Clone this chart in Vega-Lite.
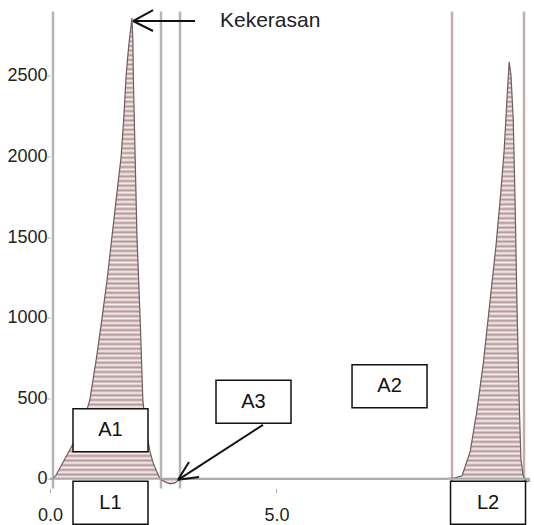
{
  "$schema": "https://vega.github.io/schema/vega-lite/v6.json",
  "width": 480,
  "height": 477,
  "autosize": "none",
  "padding": {"left": 50, "top": 11.5, "right": 4, "bottom": 36.5},
  "background": "white",
  "config": {"view": {"stroke": null}, "font": "Liberation Sans"},
  "datasets": {
    "curve": [
      {"t": 0.0, "f": 0}, {"t": 0.066, "f": 0}, {"t": 0.13, "f": 22}, {"t": 0.2, "f": 58},
      {"t": 0.4, "f": 160}, {"t": 0.57, "f": 250}, {"t": 0.75, "f": 366}, {"t": 0.88, "f": 490},
      {"t": 1.02, "f": 738}, {"t": 1.15, "f": 999}, {"t": 1.26, "f": 1234}, {"t": 1.37, "f": 1507},
      {"t": 1.46, "f": 1731}, {"t": 1.57, "f": 1998}, {"t": 1.63, "f": 2239}, {"t": 1.68, "f": 2500},
      {"t": 1.74, "f": 2692}, {"t": 1.81, "f": 2860}, {"t": 1.83, "f": 2723}, {"t": 1.84, "f": 2500},
      {"t": 1.88, "f": 2000}, {"t": 1.92, "f": 1507}, {"t": 1.99, "f": 999}, {"t": 2.05, "f": 490},
      {"t": 2.12, "f": 304}, {"t": 2.21, "f": 167}, {"t": 2.27, "f": 105}, {"t": 2.36, "f": 43},
      {"t": 2.43, "f": 0}, {"t": 2.54, "f": -19}, {"t": 2.65, "f": -31}, {"t": 2.76, "f": -25},
      {"t": 2.85, "f": -6}, {"t": 2.92, "f": 0}, {"t": 8.72, "f": 0}, {"t": 8.94, "f": 6},
      {"t": 9.1, "f": 19}, {"t": 9.28, "f": 170}, {"t": 9.42, "f": 410}, {"t": 9.57, "f": 720},
      {"t": 9.72, "f": 1110}, {"t": 9.85, "f": 1450}, {"t": 9.95, "f": 1760}, {"t": 10.03, "f": 2041},
      {"t": 10.09, "f": 2351}, {"t": 10.14, "f": 2587}, {"t": 10.18, "f": 2506}, {"t": 10.23, "f": 2227},
      {"t": 10.27, "f": 1731}, {"t": 10.31, "f": 1110}, {"t": 10.36, "f": 490}, {"t": 10.4, "f": 118},
      {"t": 10.45, "f": 19}, {"t": 10.53, "f": -19}, {"t": 10.6, "f": -12}
    ],
    "markers": [
      {"t": 0.066, "jenis": "A"}, {"t": 2.451, "jenis": "A"}, {"t": 2.871, "jenis": "A"},
      {"t": 8.878, "jenis": "B"}, {"t": 10.468, "jenis": "B"}
    ],
    "arrows": [
      {"x": 1.833, "y": 2841, "x2": 3.202, "y2": 2841},
      {"x": 1.833, "y": 2841, "x2": 2.275, "y2": 2909},
      {"x": 1.833, "y": 2841, "x2": 2.275, "y2": 2779},
      {"x": 2.827, "y": -6, "x2": 4.704, "y2": 335},
      {"x": 2.827, "y": -6, "x2": 3.07, "y2": 105},
      {"x": 2.827, "y": -6, "x2": 3.291, "y2": 12}
    ],
    "boxes": [
      {"label": "A1", "t": 1.336, "f": 301},
      {"label": "A3", "t": 4.494, "f": 478},
      {"label": "A2", "t": 7.498, "f": 574},
      {"label": "L1", "t": 1.336, "f": -149},
      {"label": "L2", "t": 9.673, "f": -149}
    ],
    "notes": [
      {"label": "Kekerasan", "t": 3.754, "f": 2841}
    ]
  },
  "encoding": {
    "x": {"field": "t", "type": "quantitative", "scale": {"domain": [0, 10.6], "nice": false, "zero": false},
      "axis": {"values": [0, 5], "format": ".1f", "title": null, "domain": false, "grid": false,
        "ticks": true, "tickSize": 4, "tickColor": "#b0b0b0", "labelPadding": 14, "labelFlush": false,
        "labelFontSize": 18, "labelColor": "#222", "labelFont": "Liberation Sans"}},
    "y": {"field": "f", "type": "quantitative", "scale": {"domain": [-60, 2900], "nice": false, "zero": false},
      "axis": {"values": [0, 500, 1000, 1500, 2000, 2500], "format": "d", "title": null, "domain": false, "grid": false,
        "ticks": true, "tickSize": 3, "tickColor": "#b0b0b0", "labelPadding": 0, "labelFlush": false,
        "labelFontSize": 18, "labelColor": "#222", "labelFont": "Liberation Sans"}}
  },
  "layer": [
    {
      "data": {"name": "markers"},
      "mark": {"type": "rule", "strokeWidth": 2.5},
      "encoding": {
        "y": null,
        "color": {"field": "jenis", "type": "nominal", "scale": {"domain": ["A", "B"], "range": ["#b5b5b5", "#c8abad"]}, "legend": null}
      }
    },
    {
      "data": {"name": "curve"},
      "mark": {"type": "area", "opacity": 1, "color": {"gradient": "linear", "x1": 0, "y1": 0, "x2": 0, "y2": 1, "stops": [
        {"offset": 0, "color": "#b39597"}, {"offset": 0.005, "color": "#f6f0f0"},
        {"offset": 0.01, "color": "#b39597"}, {"offset": 0.015, "color": "#f6f0f0"},
        {"offset": 0.02, "color": "#b39597"}, {"offset": 0.025, "color": "#f6f0f0"},
        {"offset": 0.03, "color": "#b39597"}, {"offset": 0.035, "color": "#f6f0f0"},
        {"offset": 0.04, "color": "#b39597"}, {"offset": 0.045, "color": "#f6f0f0"},
        {"offset": 0.05, "color": "#b39597"}, {"offset": 0.055, "color": "#f6f0f0"},
        {"offset": 0.06, "color": "#b39597"}, {"offset": 0.065, "color": "#f6f0f0"},
        {"offset": 0.07, "color": "#b39597"}, {"offset": 0.075, "color": "#f6f0f0"},
        {"offset": 0.08, "color": "#b39597"}, {"offset": 0.085, "color": "#f6f0f0"},
        {"offset": 0.09, "color": "#b39597"}, {"offset": 0.095, "color": "#f6f0f0"},
        {"offset": 0.10, "color": "#b39597"}, {"offset": 0.105, "color": "#f6f0f0"},
        {"offset": 0.11, "color": "#b39597"}, {"offset": 0.115, "color": "#f6f0f0"},
        {"offset": 0.12, "color": "#b39597"}, {"offset": 0.125, "color": "#f6f0f0"},
        {"offset": 0.13, "color": "#b39597"}, {"offset": 0.135, "color": "#f6f0f0"},
        {"offset": 0.14, "color": "#b39597"}, {"offset": 0.145, "color": "#f6f0f0"},
        {"offset": 0.15, "color": "#b39597"}, {"offset": 0.155, "color": "#f6f0f0"},
        {"offset": 0.16, "color": "#b39597"}, {"offset": 0.165, "color": "#f6f0f0"},
        {"offset": 0.17, "color": "#b39597"}, {"offset": 0.175, "color": "#f6f0f0"},
        {"offset": 0.18, "color": "#b39597"}, {"offset": 0.185, "color": "#f6f0f0"},
        {"offset": 0.19, "color": "#b39597"}, {"offset": 0.195, "color": "#f6f0f0"},
        {"offset": 0.20, "color": "#b39597"}, {"offset": 0.205, "color": "#f6f0f0"},
        {"offset": 0.21, "color": "#b39597"}, {"offset": 0.215, "color": "#f6f0f0"},
        {"offset": 0.22, "color": "#b39597"}, {"offset": 0.225, "color": "#f6f0f0"},
        {"offset": 0.23, "color": "#b39597"}, {"offset": 0.235, "color": "#f6f0f0"},
        {"offset": 0.24, "color": "#b39597"}, {"offset": 0.245, "color": "#f6f0f0"},
        {"offset": 0.25, "color": "#b39597"}, {"offset": 0.255, "color": "#f6f0f0"},
        {"offset": 0.26, "color": "#b39597"}, {"offset": 0.265, "color": "#f6f0f0"},
        {"offset": 0.27, "color": "#b39597"}, {"offset": 0.275, "color": "#f6f0f0"},
        {"offset": 0.28, "color": "#b39597"}, {"offset": 0.285, "color": "#f6f0f0"},
        {"offset": 0.29, "color": "#b39597"}, {"offset": 0.295, "color": "#f6f0f0"},
        {"offset": 0.30, "color": "#b39597"}, {"offset": 0.305, "color": "#f6f0f0"},
        {"offset": 0.31, "color": "#b39597"}, {"offset": 0.315, "color": "#f6f0f0"},
        {"offset": 0.32, "color": "#b39597"}, {"offset": 0.325, "color": "#f6f0f0"},
        {"offset": 0.33, "color": "#b39597"}, {"offset": 0.335, "color": "#f6f0f0"},
        {"offset": 0.34, "color": "#b39597"}, {"offset": 0.345, "color": "#f6f0f0"},
        {"offset": 0.35, "color": "#b39597"}, {"offset": 0.355, "color": "#f6f0f0"},
        {"offset": 0.36, "color": "#b39597"}, {"offset": 0.365, "color": "#f6f0f0"},
        {"offset": 0.37, "color": "#b39597"}, {"offset": 0.375, "color": "#f6f0f0"},
        {"offset": 0.38, "color": "#b39597"}, {"offset": 0.385, "color": "#f6f0f0"},
        {"offset": 0.39, "color": "#b39597"}, {"offset": 0.395, "color": "#f6f0f0"},
        {"offset": 0.40, "color": "#b39597"}, {"offset": 0.405, "color": "#f6f0f0"},
        {"offset": 0.41, "color": "#b39597"}, {"offset": 0.415, "color": "#f6f0f0"},
        {"offset": 0.42, "color": "#b39597"}, {"offset": 0.425, "color": "#f6f0f0"},
        {"offset": 0.43, "color": "#b39597"}, {"offset": 0.435, "color": "#f6f0f0"},
        {"offset": 0.44, "color": "#b39597"}, {"offset": 0.445, "color": "#f6f0f0"},
        {"offset": 0.45, "color": "#b39597"}, {"offset": 0.455, "color": "#f6f0f0"},
        {"offset": 0.46, "color": "#b39597"}, {"offset": 0.465, "color": "#f6f0f0"},
        {"offset": 0.47, "color": "#b39597"}, {"offset": 0.475, "color": "#f6f0f0"},
        {"offset": 0.48, "color": "#b39597"}, {"offset": 0.485, "color": "#f6f0f0"},
        {"offset": 0.49, "color": "#b39597"}, {"offset": 0.495, "color": "#f6f0f0"},
        {"offset": 0.50, "color": "#b39597"}, {"offset": 0.505, "color": "#f6f0f0"},
        {"offset": 0.51, "color": "#b39597"}, {"offset": 0.515, "color": "#f6f0f0"},
        {"offset": 0.52, "color": "#b39597"}, {"offset": 0.525, "color": "#f6f0f0"},
        {"offset": 0.53, "color": "#b39597"}, {"offset": 0.535, "color": "#f6f0f0"},
        {"offset": 0.54, "color": "#b39597"}, {"offset": 0.545, "color": "#f6f0f0"},
        {"offset": 0.55, "color": "#b39597"}, {"offset": 0.555, "color": "#f6f0f0"},
        {"offset": 0.56, "color": "#b39597"}, {"offset": 0.565, "color": "#f6f0f0"},
        {"offset": 0.57, "color": "#b39597"}, {"offset": 0.575, "color": "#f6f0f0"},
        {"offset": 0.58, "color": "#b39597"}, {"offset": 0.585, "color": "#f6f0f0"},
        {"offset": 0.59, "color": "#b39597"}, {"offset": 0.595, "color": "#f6f0f0"},
        {"offset": 0.60, "color": "#b39597"}, {"offset": 0.605, "color": "#f6f0f0"},
        {"offset": 0.61, "color": "#b39597"}, {"offset": 0.615, "color": "#f6f0f0"},
        {"offset": 0.62, "color": "#b39597"}, {"offset": 0.625, "color": "#f6f0f0"},
        {"offset": 0.63, "color": "#b39597"}, {"offset": 0.635, "color": "#f6f0f0"},
        {"offset": 0.64, "color": "#b39597"}, {"offset": 0.645, "color": "#f6f0f0"},
        {"offset": 0.65, "color": "#b39597"}, {"offset": 0.655, "color": "#f6f0f0"},
        {"offset": 0.66, "color": "#b39597"}, {"offset": 0.665, "color": "#f6f0f0"},
        {"offset": 0.67, "color": "#b39597"}, {"offset": 0.675, "color": "#f6f0f0"},
        {"offset": 0.68, "color": "#b39597"}, {"offset": 0.685, "color": "#f6f0f0"},
        {"offset": 0.69, "color": "#b39597"}, {"offset": 0.695, "color": "#f6f0f0"},
        {"offset": 0.70, "color": "#b39597"}, {"offset": 0.705, "color": "#f6f0f0"},
        {"offset": 0.71, "color": "#b39597"}, {"offset": 0.715, "color": "#f6f0f0"},
        {"offset": 0.72, "color": "#b39597"}, {"offset": 0.725, "color": "#f6f0f0"},
        {"offset": 0.73, "color": "#b39597"}, {"offset": 0.735, "color": "#f6f0f0"},
        {"offset": 0.74, "color": "#b39597"}, {"offset": 0.745, "color": "#f6f0f0"},
        {"offset": 0.75, "color": "#b39597"}, {"offset": 0.755, "color": "#f6f0f0"},
        {"offset": 0.76, "color": "#b39597"}, {"offset": 0.765, "color": "#f6f0f0"},
        {"offset": 0.77, "color": "#b39597"}, {"offset": 0.775, "color": "#f6f0f0"},
        {"offset": 0.78, "color": "#b39597"}, {"offset": 0.785, "color": "#f6f0f0"},
        {"offset": 0.79, "color": "#b39597"}, {"offset": 0.795, "color": "#f6f0f0"},
        {"offset": 0.80, "color": "#b39597"}, {"offset": 0.805, "color": "#f6f0f0"},
        {"offset": 0.81, "color": "#b39597"}, {"offset": 0.815, "color": "#f6f0f0"},
        {"offset": 0.82, "color": "#b39597"}, {"offset": 0.825, "color": "#f6f0f0"},
        {"offset": 0.83, "color": "#b39597"}, {"offset": 0.835, "color": "#f6f0f0"},
        {"offset": 0.84, "color": "#b39597"}, {"offset": 0.845, "color": "#f6f0f0"},
        {"offset": 0.85, "color": "#b39597"}, {"offset": 0.855, "color": "#f6f0f0"},
        {"offset": 0.86, "color": "#b39597"}, {"offset": 0.865, "color": "#f6f0f0"},
        {"offset": 0.87, "color": "#b39597"}, {"offset": 0.875, "color": "#f6f0f0"},
        {"offset": 0.88, "color": "#b39597"}, {"offset": 0.885, "color": "#f6f0f0"},
        {"offset": 0.89, "color": "#b39597"}, {"offset": 0.895, "color": "#f6f0f0"},
        {"offset": 0.90, "color": "#b39597"}, {"offset": 0.905, "color": "#f6f0f0"},
        {"offset": 0.91, "color": "#b39597"}, {"offset": 0.915, "color": "#f6f0f0"},
        {"offset": 0.92, "color": "#b39597"}, {"offset": 0.925, "color": "#f6f0f0"},
        {"offset": 0.93, "color": "#b39597"}, {"offset": 0.935, "color": "#f6f0f0"},
        {"offset": 0.94, "color": "#b39597"}, {"offset": 0.945, "color": "#f6f0f0"},
        {"offset": 0.95, "color": "#b39597"}, {"offset": 0.955, "color": "#f6f0f0"},
        {"offset": 0.96, "color": "#b39597"}, {"offset": 0.965, "color": "#f6f0f0"},
        {"offset": 0.97, "color": "#b39597"}, {"offset": 0.975, "color": "#f6f0f0"},
        {"offset": 0.98, "color": "#b39597"}, {"offset": 0.985, "color": "#f6f0f0"},
        {"offset": 0.99, "color": "#b39597"}, {"offset": 0.995, "color": "#f6f0f0"},
        {"offset": 1, "color": "#b39597"}
      ]}}
    },
    {
      "data": {"name": "curve"},
      "mark": {"type": "line", "color": "#6e5c5e", "strokeWidth": 1.2}
    },
    {
      "data": {"values": [{"f": 0}]},
      "mark": {"type": "rule", "color": "#a9a9a9", "strokeWidth": 2},
      "encoding": {"x": null}
    },
    {
      "data": {"name": "arrows"},
      "mark": {"type": "rule", "color": "#111", "strokeWidth": 2},
      "encoding": {
        "x": {"field": "x", "type": "quantitative"},
        "y": {"field": "y", "type": "quantitative"},
        "x2": {"field": "x2"},
        "y2": {"field": "y2"}
      }
    },
    {
      "data": {"name": "boxes"},
      "mark": {"type": "point", "shape": "M-1,-0.573H1V0.573H-1Z", "size": 5625, "filled": true,
        "fill": "white", "stroke": "#111", "strokeWidth": 1.5, "opacity": 1}
    },
    {
      "data": {"name": "boxes"},
      "mark": {"type": "text", "fontSize": 20, "font": "Liberation Sans", "color": "#111", "align": "center", "baseline": "middle"},
      "encoding": {"text": {"field": "label"}}
    },
    {
      "data": {"name": "notes"},
      "mark": {"type": "text", "fontSize": 21, "font": "Liberation Sans", "color": "#222", "align": "left", "baseline": "middle"},
      "encoding": {"text": {"field": "label"}}
    }
  ]
}
